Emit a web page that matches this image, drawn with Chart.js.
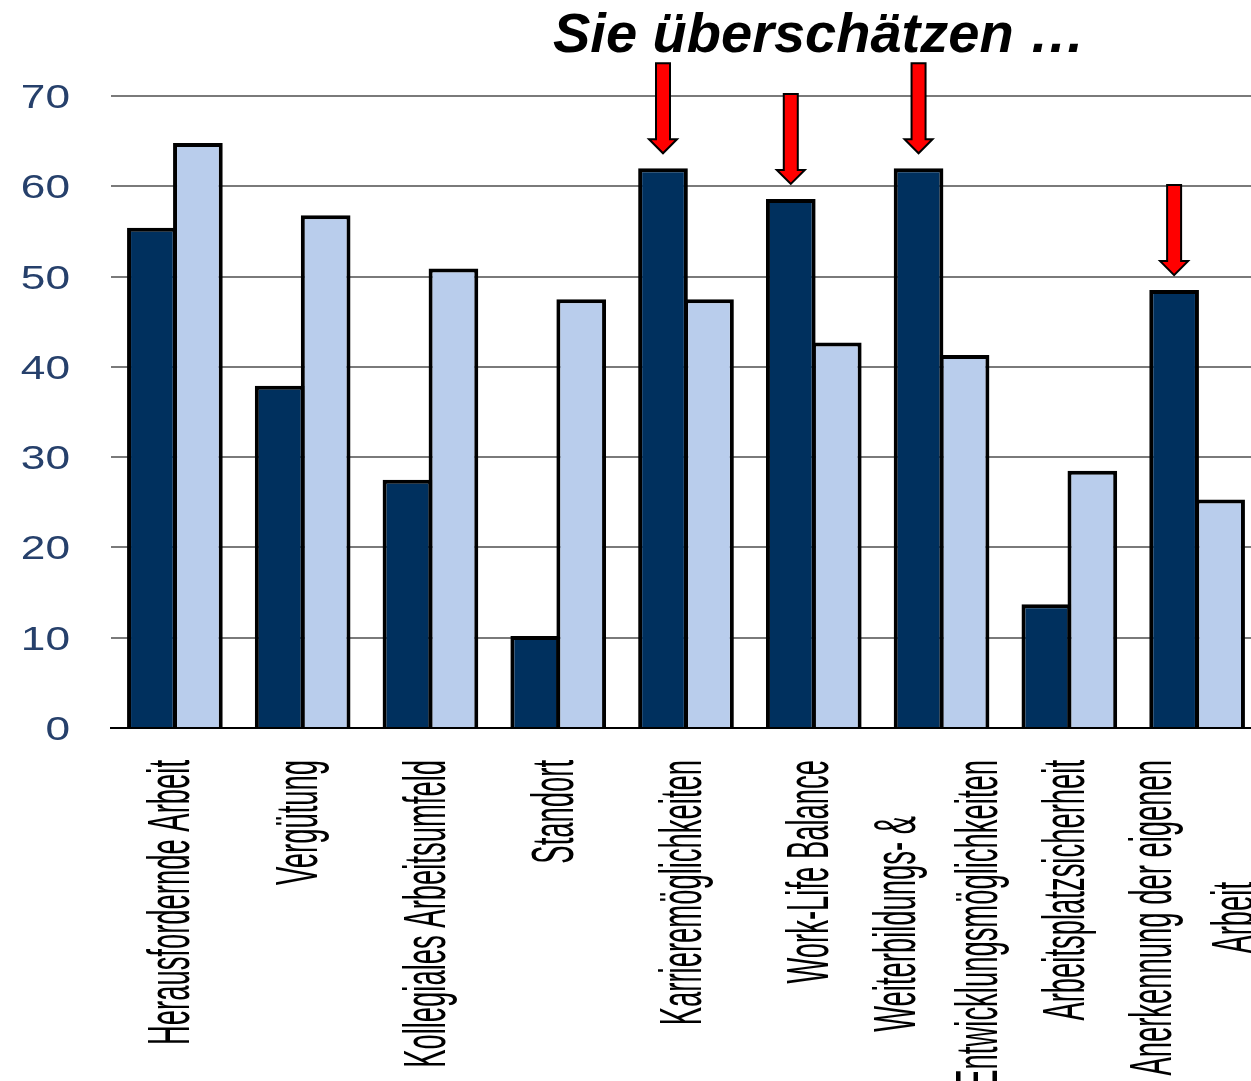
<!DOCTYPE html>
<html>
<head>
<meta charset="utf-8">
<script src="https://cdn.jsdelivr.net/npm/chart.js@4.4.1/dist/chart.umd.min.js"></script>
<style>
  html, body { margin: 0; padding: 0; background: #fff; overflow: hidden; }
  #wrap { position: absolute; left: 0; top: 0; width: 1262px; height: 1081px; }
</style>
</head>
<body>
<div id="wrap"><canvas id="chart" width="1262" height="1081"></canvas></div>
<script>
// Werte
const categories = [
  "Herausfordernde Arbeit",
  "Vergütung",
  "Kollegiales Arbeitsumfeld",
  "Standort",
  "Karrieremöglichkeiten",
  "Work-Life Balance",
  ["Weiterbildungs- &", "Entwicklungsmöglichkeiten"],
  "Arbeitsplatzsicherheit",
  ["Anerkennung der eigenen", "Arbeit"]
];
const seriesDark = [55.4, 37.9, 27.5, 10.2, 62.0, 58.6, 62.0, 13.7, 48.5];
const seriesLight = [64.8, 56.8, 50.9, 47.5, 47.5, 42.7, 41.3, 28.5, 25.3];
const yTicks = [0, 10, 20, 30, 40, 50, 60, 70];
const arrowIndices = [4, 5, 6, 8];
const titleText = "Sie überschätzen …";

function drawArrow(ctx, cx, top, tip) {
  const sw = 7, hw = 14, hl = 14;
  ctx.beginPath();
  ctx.moveTo(cx - sw, top);
  ctx.lineTo(cx + sw, top);
  ctx.lineTo(cx + sw, tip - hl);
  ctx.lineTo(cx + hw, tip - hl);
  ctx.lineTo(cx, tip);
  ctx.lineTo(cx - hw, tip - hl);
  ctx.lineTo(cx - sw, tip - hl);
  ctx.closePath();
  ctx.fillStyle = '#ff0000';
  ctx.fill();
  ctx.lineWidth = 2;
  ctx.strokeStyle = '#000';
  ctx.stroke();
}

// Beschriftungen, Pfeile und Titel selbst zeichnen (gestauchte Schrift wie im Original)
const decorations = {
  id: 'decorations',
  afterDraw(chart) {
    const ctx = chart.ctx;
    const xs = chart.scales.x, ys = chart.scales.y;

    ctx.save();
    ctx.fillStyle = '#26406b';
    ctx.font = '33px "Liberation Sans", Arial, sans-serif';
    ctx.textAlign = 'right';
    ctx.textBaseline = 'alphabetic';
    yTicks.forEach(v => {
      ctx.save();
      ctx.translate(70, ys.getPixelForValue(v) + 12);
      ctx.scale(1.34, 1);
      ctx.fillText(String(v), 0, 0);
      ctx.restore();
    });

    ctx.font = '60px "Liberation Sans", Arial, sans-serif';
    ctx.fillStyle = '#000';
    ctx.textAlign = 'center';
    categories.forEach((lab, i) => {
      const lines = Array.isArray(lab) ? lab : [lab];
      const maxW = Math.max(...lines.map(l => ctx.measureText(l).width));
      const px = xs.getPixelForTick(i);
      lines.forEach((line, j) => {
        ctx.save();
        ctx.translate(px + 14.5 + (j - (lines.length - 1) / 2) * 82, ys.bottom + 32);
        ctx.rotate(-Math.PI / 2);
        ctx.scale(0.457, 1);
        ctx.fillText(line, -maxW / 2, 0);
        ctx.restore();
      });
    });

    const meta = chart.getDatasetMeta(0);
    arrowIndices.forEach(i => {
      const bar = meta.data[i];
      const tip = bar.y - 15;
      drawArrow(ctx, bar.x, tip - 90, tip);
    });

    ctx.fillStyle = '#000';
    ctx.font = 'italic bold 56px "Liberation Sans", Arial, sans-serif';
    ctx.textAlign = 'left';
    ctx.fillText(titleText, 553, 52);
    ctx.restore();
  }
};

new Chart(document.getElementById('chart'), {
  type: 'bar',
  data: {
    labels: categories,
    datasets: [
      { data: seriesDark, backgroundColor: '#00305e', borderColor: '#000', borderWidth: 4,
        categoryPercentage: 0.72, barPercentage: 1.08 },
      { data: seriesLight, backgroundColor: '#b9cdec', borderColor: '#000', borderWidth: 4,
        categoryPercentage: 0.72, barPercentage: 1.08 }
    ]
  },
  options: {
    responsive: false,
    animation: false,
    devicePixelRatio: 1,
    layout: { padding: { left: 111, right: 1, top: 96, bottom: 353 } },
    plugins: { legend: { display: false }, tooltip: { enabled: false } },
    scales: {
      x: {
        grid: { display: false, drawTicks: false },
        ticks: { display: false },
        border: { display: true, color: '#000', width: 2 }
      },
      y: {
        min: 0, max: 70,
        ticks: { display: false, stepSize: 10 },
        grid: { color: '#7a7a7a', lineWidth: 2, drawTicks: false },
        border: { display: false }
      }
    }
  },
  plugins: [decorations]
});
</script>
</body>
</html>
